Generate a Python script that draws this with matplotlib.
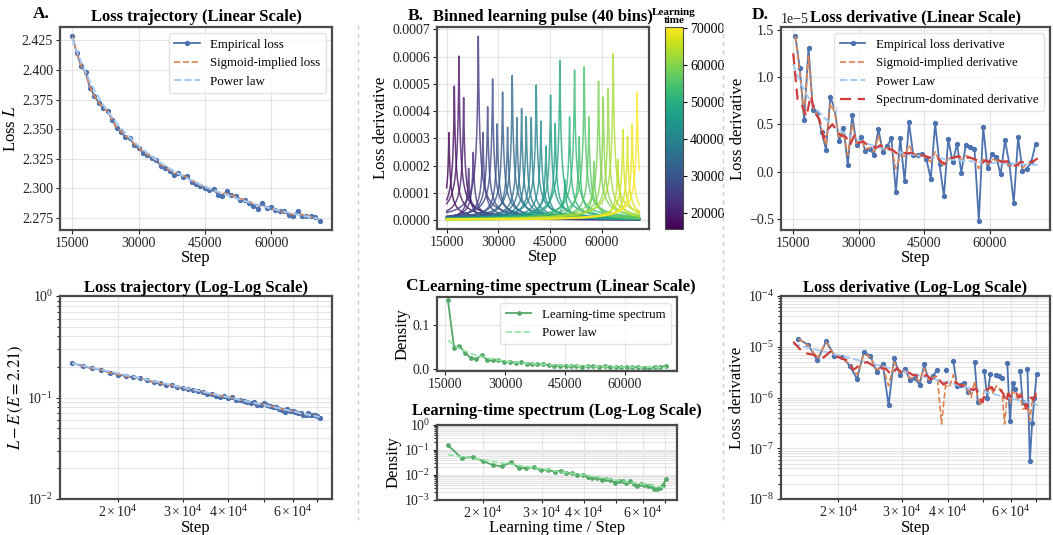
import numpy as np
import matplotlib.pyplot as plt
from matplotlib.lines import Line2D
from matplotlib.colors import Normalize
from matplotlib.cm import ScalarMappable

plt.rcParams['font.family'] = 'serif'
plt.rcParams['font.serif'] = ['Liberation Serif', 'DejaVu Serif']
plt.rcParams['mathtext.fontset'] = 'stix'

# ---- data ----
loss_steps = np.arange(15000, 71001, 1000)
deriv_steps = np.arange(15500, 70501, 1000)

emp_loss = [2.4285, 2.4142, 2.4033, 2.3979, 2.3848, 2.3783, 2.3721, 2.3679, 2.3656, 2.3577,
            2.3511, 2.3479, 2.3433, 2.3426, 2.3366, 2.3338, 2.3301, 2.3279, 2.3255, 2.3237,
            2.3192, 2.3171, 2.3144, 2.3109, 2.3131, 2.3096, 2.3106, 2.3054, 2.3037, 2.3019,
            2.3000, 2.2987, 2.2995, 2.2944, 2.2936, 2.2977, 2.2943, 2.2933, 2.2904, 2.2905,
            2.2877, 2.2851, 2.2827, 2.2879, 2.2832, 2.2839, 2.2820, 2.2805, 2.2808, 2.2775,
            2.2767, 2.2805, 2.2769, 2.2768, 2.2765, 2.2755, 2.2726]
sig_loss = [2.4285, 2.4140, 2.4035, 2.3975, 2.3852, 2.3784, 2.3724, 2.3679, 2.3651, 2.3580,
            2.3518, 2.3483, 2.3441, 2.3424, 2.3374, 2.3344, 2.3310, 2.3286, 2.3261, 2.3240,
            2.3202, 2.3180, 2.3155, 2.3129, 2.3126, 2.3109, 2.3093, 2.3065, 2.3046, 2.3028,
            2.3010, 2.2996, 2.2986, 2.2965, 2.2955, 2.2957, 2.2943, 2.2930, 2.2913, 2.2901,
            2.2884, 2.2869, 2.2855, 2.2852, 2.2839, 2.2831, 2.2818, 2.2806, 2.2797, 2.2785,
            2.2779, 2.2782, 2.2777, 2.2772, 2.2762, 2.2752, 2.2739]

E_floor = 2.21
pl_amp = 0.217      # L - E at pl_ref
pl_exp = 0.785
pl_ref = 15000

# derivatives in units of 1e-5
emp_deriv = [1.43, 1.09, 0.54, 1.31, 0.65, 0.62, 0.42, 0.23, 0.79, 0.66,
             0.32, 0.46, 0.07, 0.60, 0.28, 0.37, 0.22, 0.24, 0.18, 0.45,
             0.21, 0.27, 0.35, -0.22, 0.35, -0.10, 0.52, 0.17, 0.18, 0.19,
             0.13, -0.08, 0.51, 0.08, -0.26, 0.34, 0.10, 0.29, -0.01, 0.28,
             0.26, 0.24, -0.52, 0.47, 0.034, 0.19, 0.15, -0.03, 0.33, 0.08,
             -0.33, 0.36, 0.0055, 0.031, 0.10, 0.29]
sig_deriv = [1.43, 1.05, 0.60, 1.22, 0.68, 0.60, 0.45, 0.28, 0.72, 0.62,
             0.35, 0.42, 0.17, 0.50, 0.30, 0.34, 0.24, 0.25, 0.21, 0.38,
             0.22, 0.25, 0.26, 0.03, 0.17, 0.16, 0.28, 0.19, 0.17, 0.18,
             0.14, 0.10, 0.21, 0.10, 0.07, 0.14, 0.13, 0.17, 0.12, 0.17,
             0.15, 0.14, 0.03, 0.13, 0.08, 0.13, 0.12, 0.09, 0.12, 0.06,
             0.06, 0.07, 0.036, 0.08, 0.10, 0.13]
spec_deriv = [1.25, 0.76, 0.70, 0.58, 0.80, 0.62, 0.55, 0.35, 0.45, 0.50,
              0.42, 0.38, 0.37, 0.28, 0.38, 0.30, 0.32, 0.28, 0.27, 0.25,
              0.28, 0.23, 0.24, 0.22, 0.18, 0.20, 0.19, 0.20, 0.18, 0.17,
              0.17, 0.15, 0.14, 0.15, 0.10, 0.08, 0.14, 0.15, 0.16, 0.13,
              0.15, 0.14, 0.12, 0.08, 0.12, 0.10, 0.12, 0.12, 0.10, 0.11,
              0.08, 0.06, 0.10, 0.10, 0.09, 0.11, 0.14]

# 40 learning-time bins
pulse_times = [15680, 17230, 18580, 19940, 21390, 22740, 24200, 25550, 26910, 28360,
               29710, 31260, 32710, 34070, 35420, 36780, 38130, 39590, 41040, 42390,
               43850, 45200, 46560, 47910, 49370, 50720, 52170, 53530, 54980, 56340,
               57790, 59140, 60500, 61950, 63400, 64760, 66210, 67560, 68920, 70370]
pulse_peaks = [3.21, 4.92, 6.02, 4.50, 1.90, 2.49, 6.75, 3.22, 4.16, 5.18,
               3.53, 4.70, 3.41, 5.31, 3.76, 4.10, 3.80, 3.77, 4.96, 3.64,
               2.72, 4.59, 3.55, 5.86, 1.48, 3.79, 5.51, 3.06, 5.62, 3.79,
               2.15, 5.10, 4.52, 4.82, 6.12, 2.23, 3.32, 3.09, 3.52, 4.70]  # 1e-4
pulse_width = 400

spec_density = [0.155, 0.048, 0.052, 0.036, 0.025, 0.022, 0.032, 0.019, 0.019, 0.020,
                0.0155, 0.016, 0.0135, 0.015, 0.012, 0.0115, 0.0102, 0.0102, 0.0085, 0.0075,
                0.0075, 0.0065, 0.0070, 0.0062, 0.0050, 0.0058, 0.0060, 0.0048, 0.0055, 0.0044,
                0.0036, 0.0044, 0.0040, 0.0037, 0.0035, 0.0028, 0.0027, 0.0031, 0.0040, 0.0070]
spec_pl_amp = 0.065
spec_pl_exp = 2.03

# ---- colours ----
c_emp = '#4c72b0'
c_sig = '#dd8452'
c_pl = '#a1c9f4'
c_spec = '#d03c3c'
c_green = '#55a868'
c_lgreen = '#8de5a1'

W, H = 1053, 535
fig = plt.figure(figsize=(W / 100, H / 100), dpi=100)


def box(l, r, t, b):
    return [l / W, 1 - b / H, (r - l) / W, (b - t) / H]


def style(ax, log=False):
    for s in ax.spines.values():
        s.set_color('#4a4a4a')
        s.set_linewidth(1.6)
    ax.tick_params(which='both', labelsize=10, colors='#222222', width=0.8, pad=2)
    ax.tick_params(which='major', length=3)
    ax.tick_params(which='minor', length=2)
    ax.grid(True, which='both' if log else 'major', color='#e4e4e4', lw=0.8)
    ax.set_axisbelow(True)


tfs = 12
lfs = 12
legfs = 9.3

loss_steps_f = loss_steps.astype(float)
pl_loss = E_floor + pl_amp * (loss_steps_f / pl_ref) ** (-pl_exp)
pl_deriv = pl_exp * pl_amp / pl_ref * (loss_steps_f / pl_ref) ** (-pl_exp - 1)

emp_loss = np.array(emp_loss)
sig_loss = np.array(sig_loss)

# ---- A top ----
ax = fig.add_axes(box(60, 332, 27, 230))
style(ax)
ax.plot(loss_steps, emp_loss, '-o', color=c_emp, lw=1.3, ms=2.8, label='Empirical loss')
ax.plot(loss_steps, sig_loss, '--', color=c_sig, lw=1.2, label='Sigmoid-implied loss')
ax.plot(loss_steps, pl_loss, '--', color=c_pl, lw=1.4, label='Power law')
ax.set_xticks([15000, 30000, 45000, 60000])
ax.set_yticks([2.275, 2.300, 2.325, 2.350, 2.375, 2.400, 2.425])
ax.set_xlabel('Step', fontsize=lfs, labelpad=0)
ax.set_ylabel('Loss $L$', fontsize=lfs, labelpad=2)
ax.set_title('Loss trajectory (Linear Scale)', fontsize=tfs, fontweight='bold', pad=4)
ax.legend(loc='upper right', fontsize=legfs, edgecolor='#dddddd')

# ---- A bottom ----
ax = fig.add_axes(box(60, 332, 296, 499))
style(ax, log=True)
ax.plot(loss_steps, emp_loss - E_floor, '-o', color=c_emp, lw=1.3, ms=2.8)
ax.plot(loss_steps, sig_loss - E_floor, '--', color=c_sig, lw=1.2)
ax.plot(loss_steps, pl_loss - E_floor, '--', color=c_pl, lw=1.4)
ax.set_xscale('log')
ax.set_yscale('log')
ax.set_ylim(1e-2, 1e0)
ax.set_xlabel('Step', fontsize=lfs, labelpad=0)
ax.set_ylabel(r'$L-E\,(E=2.21)$', fontsize=lfs, labelpad=2)
ax.set_title('Loss trajectory (Log-Log Scale)', fontsize=tfs, fontweight='bold', pad=3)

# ---- B ----
ax = fig.add_axes(box(437, 649, 27, 229))
style(ax)
grid = np.union1d(np.linspace(15000, 71000, 2500), pulse_times)
norm = Normalize(min(pulse_times), max(pulse_times))
cmap = plt.get_cmap('viridis')
for t, h in zip(pulse_times, pulse_peaks):
    ax.plot(grid, h * 1e-4 / (1 + np.abs(grid - t) / pulse_width),
            color=cmap(norm(t)), lw=1.1, alpha=0.8)
ax.set_xticks([15000, 30000, 45000, 60000])
ax.set_yticks(np.arange(0, 0.00071, 0.0001))
ax.yaxis.set_major_formatter(plt.FormatStrFormatter('%.4f'))
ax.set_xlabel('Step', fontsize=lfs, labelpad=0)
ax.set_ylabel('Loss derivative', fontsize=lfs, labelpad=2)
ax.set_title('Binned learning pulse (40 bins)', fontsize=tfs, fontweight='bold', pad=4)
cax = fig.add_axes(box(665, 683, 27, 229))
cb = fig.colorbar(ScalarMappable(norm=norm, cmap=cmap), cax=cax)
cb.outline.set_edgecolor('#4a4a4a')
cb.ax.tick_params(labelsize=10, length=3, pad=2)
cax.set_title('Learning\ntime', fontsize=8, fontweight='bold', pad=3, linespacing=0.9)

# ---- C linear ----
pt = np.array(pulse_times, dtype=float)
spec_pl = spec_pl_amp * (pt / pt[0]) ** (-spec_pl_exp)
ax = fig.add_axes(box(437, 677, 297, 371))
style(ax)
ax.plot(pulse_times, spec_density, '-o', color=c_green, lw=1.3, ms=2.4, label='Learning-time spectrum')
ax.plot(pulse_times, spec_pl, '--', color=c_lgreen, lw=1.2, label='Power law')
ax.set_xticks([15000, 30000, 45000, 60000])
ax.set_yticks([0.0, 0.1])
ax.set_ylabel('Density', fontsize=lfs, labelpad=2)
ax.set_title('Learning-time spectrum (Linear Scale)', fontsize=tfs, fontweight='bold', pad=4)
ax.legend(loc='upper right', fontsize=legfs, edgecolor='#dddddd')

# ---- C log ----
ax = fig.add_axes(box(437, 677, 425, 500))
style(ax, log=True)
ax.plot(pulse_times, spec_density, '-o', color=c_green, lw=1.3, ms=2.4)
ax.plot(pulse_times, spec_pl, '--', color=c_lgreen, lw=1.2)
ax.set_xscale('log')
ax.set_yscale('log')
ax.set_ylim(1e-3, 1e0)
ax.set_xlabel('Learning time / Step', fontsize=lfs, labelpad=-1)
ax.set_ylabel('Density', fontsize=lfs, labelpad=2)
ax.set_title('Learning-time spectrum (Log-Log Scale)', fontsize=tfs, fontweight='bold', pad=7)

# ---- D linear ----
ed = np.array(emp_deriv) * 1e-5
sd = np.array(sig_deriv) * 1e-5
rd = np.array(spec_deriv) * 1e-5
ax = fig.add_axes(box(781, 1050, 27, 230))
style(ax)
ax.plot(deriv_steps, ed, '-o', color=c_emp, lw=1.3, ms=2.8, label='Empirical loss derivative')
ax.plot(deriv_steps, sd, '--', color=c_sig, lw=1.2, label='Sigmoid-implied derivative')
ax.plot(loss_steps, pl_deriv, '--', color=c_pl, lw=1.4, label='Power Law')
ax.plot(loss_steps, rd, '--', color=c_spec, lw=1.6, dashes=(5, 3), label='Spectrum-dominated derivative')
ax.set_xticks([15000, 30000, 45000, 60000])
ax.set_yticks([-0.5e-5, 0, 0.5e-5, 1.0e-5, 1.5e-5])
ax.set_xlabel('Step', fontsize=lfs, labelpad=0)
ax.set_ylabel('Loss derivative', fontsize=lfs, labelpad=2)
ax.set_title('Loss derivative (Linear Scale)', fontsize=tfs, fontweight='bold', pad=4)
ax.yaxis.get_offset_text().set_fontsize(10)
ax.legend(loc='upper right', fontsize=legfs, edgecolor='#dddddd')

# ---- D log ----
ax = fig.add_axes(box(781, 1050, 296, 499))
style(ax, log=True)
ax.set_xscale('log')
ax.set_yscale('log', nonpositive='mask')
ax.plot(deriv_steps, ed, '-o', color=c_emp, lw=1.3, ms=2.8)
ax.plot(deriv_steps, sd, '--', color=c_sig, lw=1.2)
ax.plot(loss_steps, pl_deriv, '--', color=c_pl, lw=1.4)
ax.plot(loss_steps, rd, '--', color=c_spec, lw=1.6, dashes=(5, 3))
ax.set_ylim(1e-8, 1e-4)
ax.set_xlabel('Step', fontsize=lfs, labelpad=0)
ax.set_ylabel('Loss derivative', fontsize=lfs, labelpad=2)
ax.set_title('Loss derivative (Log-Log Scale)', fontsize=tfs, fontweight='bold', pad=3)

# ---- panel letters & separators ----
fig.text(33 / W, 1 - 14 / H, 'A.', fontsize=12.5, fontweight='bold', va='center')
fig.text(408 / W, 1 - 16 / H, 'B.', fontsize=12.5, fontweight='bold', va='center')
fig.text(405 / W, 1 - 286 / H, 'C', fontsize=12.5, fontweight='bold', va='center')
fig.text(752 / W, 1 - 15 / H, 'D.', fontsize=12.5, fontweight='bold', va='center')
for xs in (358, 723):
    fig.add_artist(Line2D([xs / W, xs / W], [1 - 25 / H, 1 - 520 / H], transform=fig.transFigure,
                          color='#cccccc', lw=1, ls=(0, (3, 3))))

fig.savefig('out.png', dpi=100)
